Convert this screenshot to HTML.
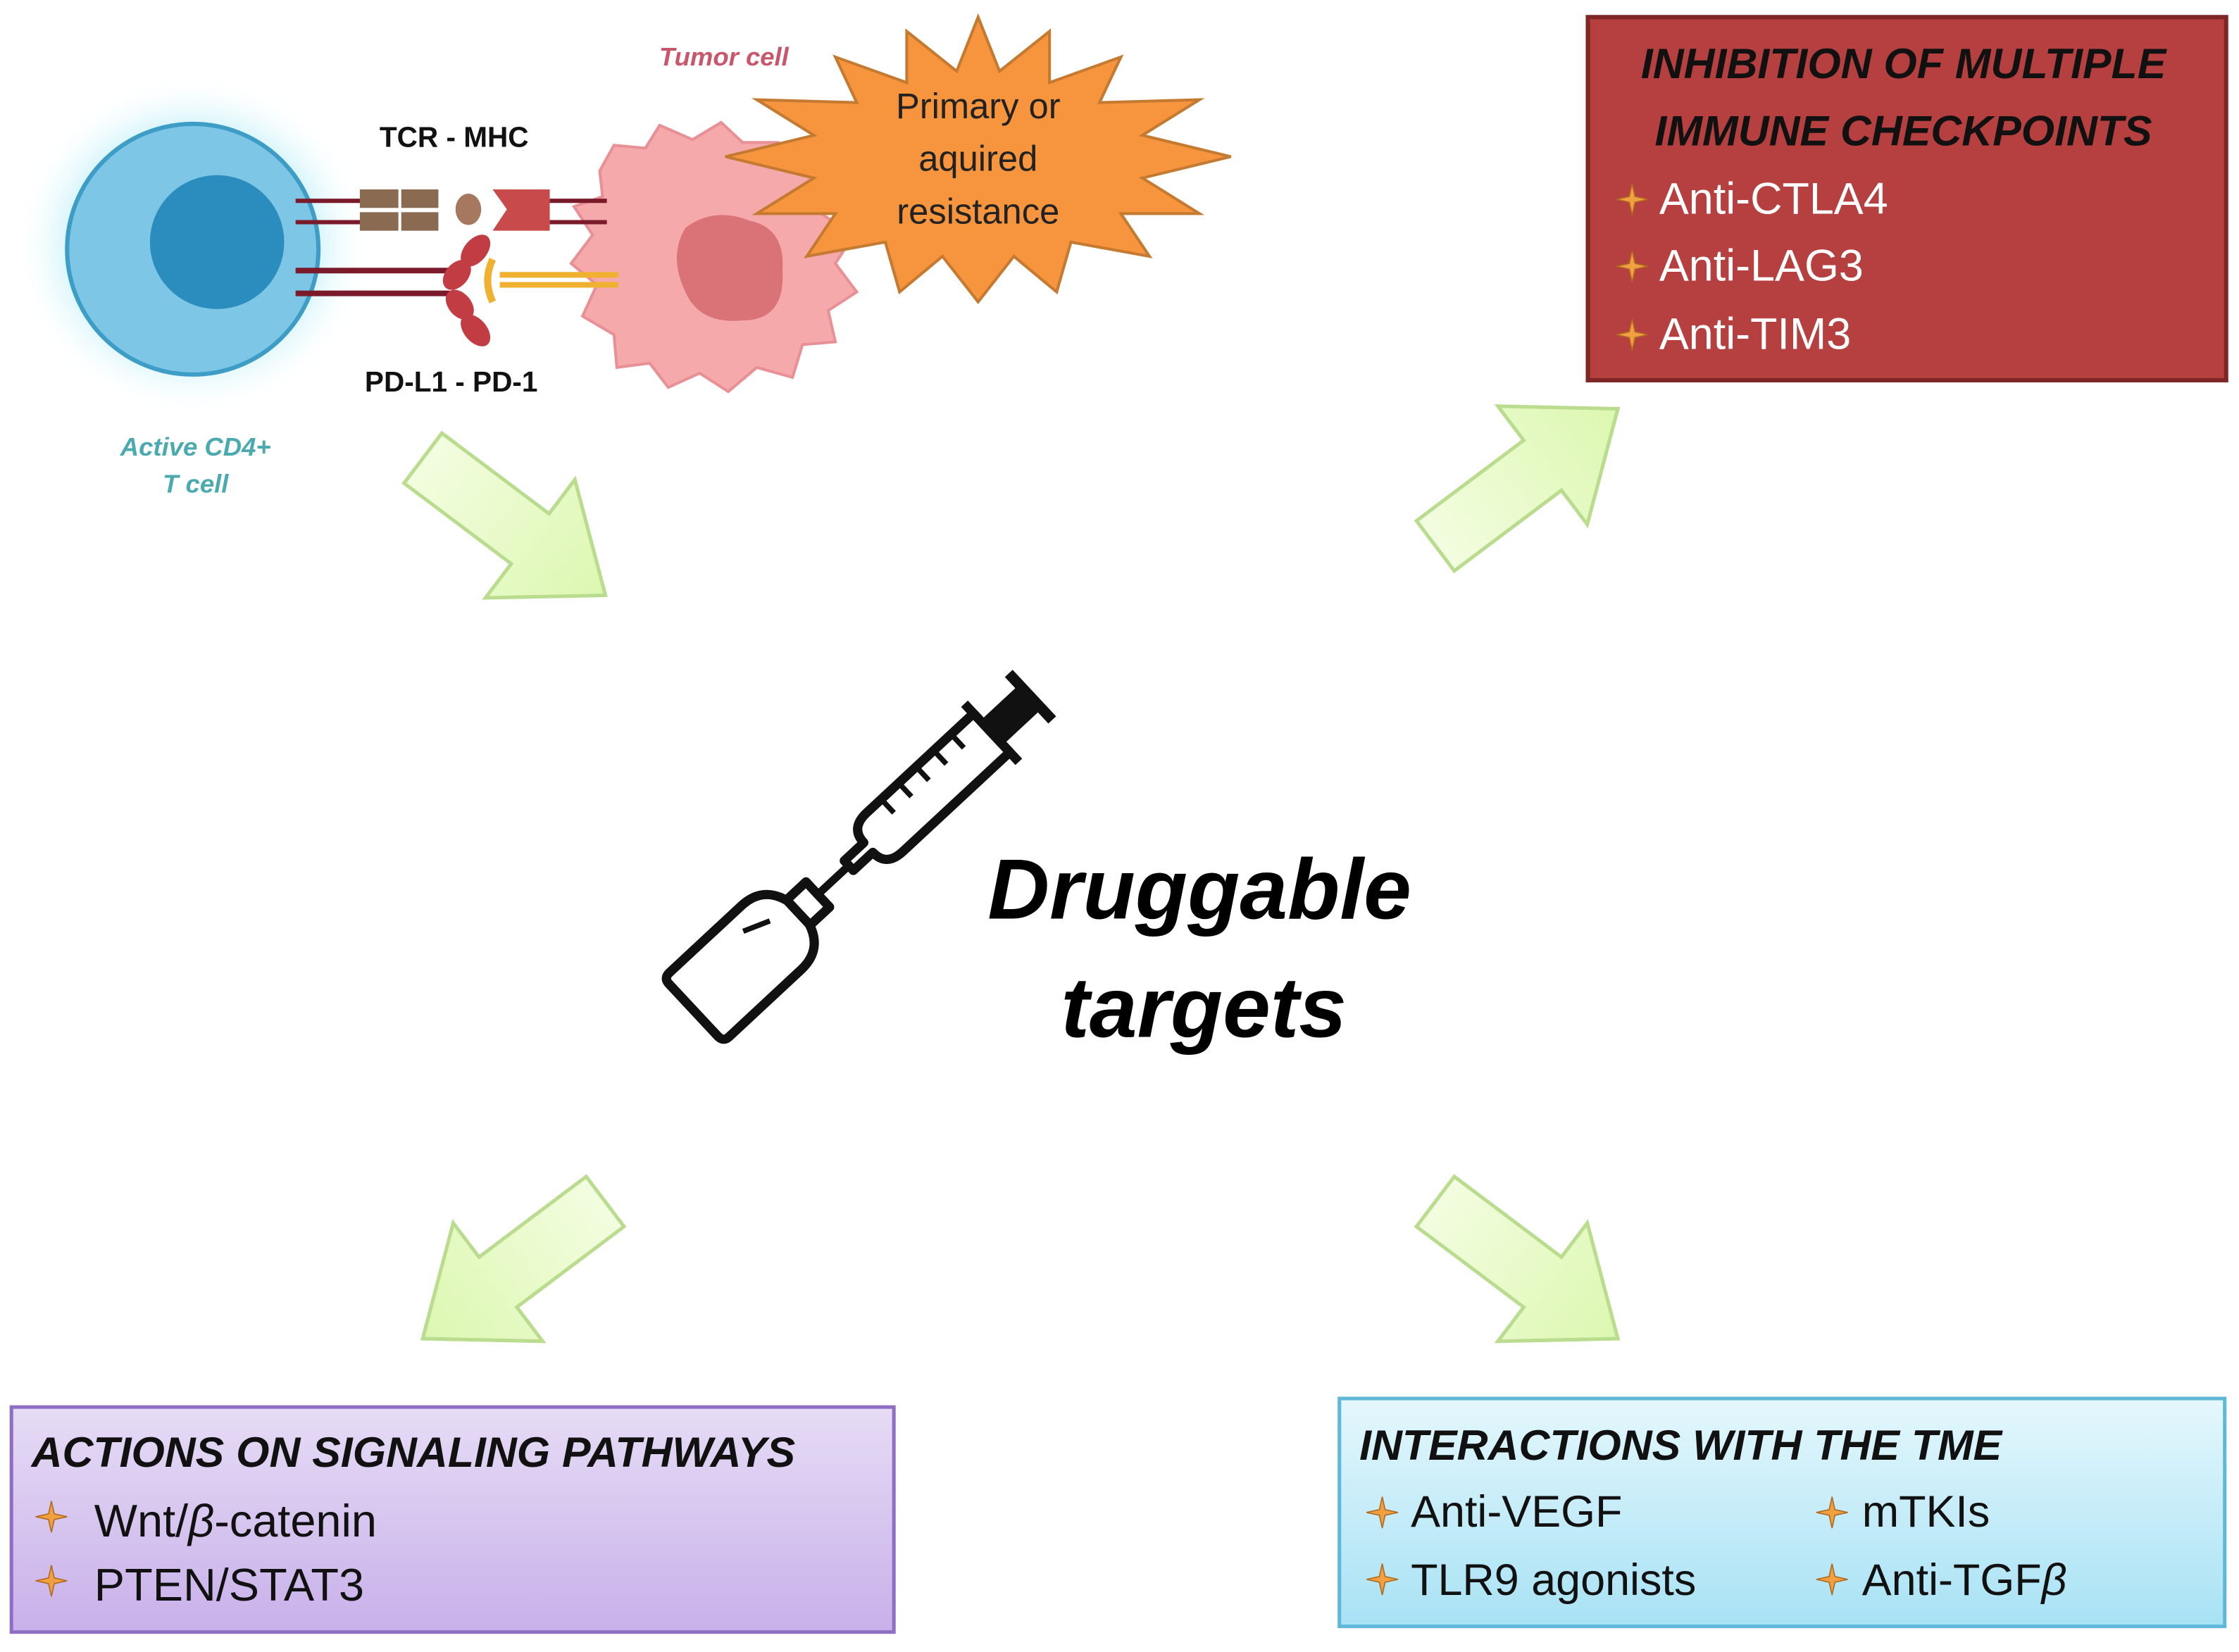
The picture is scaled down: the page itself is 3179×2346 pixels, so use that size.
<!DOCTYPE html>
<html><head><meta charset="utf-8"><style>
html,body{margin:0;padding:0;background:#fff}
svg{display:block}
text{font-family:"Liberation Sans",sans-serif}
</style></head><body>
<svg width="3179" height="2346" viewBox="0 0 1568 1160" preserveAspectRatio="none" xmlns="http://www.w3.org/2000/svg">
<defs>
<radialGradient id="glow" cx="0.5" cy="0.5" r="0.5">
<stop offset="0.6" stop-color="#b8eef8"/><stop offset="1" stop-color="#ffffff" stop-opacity="0"/>
</radialGradient>
<linearGradient id="ag" x1="0" y1="0" x2="1" y2="0">
<stop offset="0" stop-color="#f3fde0"/><stop offset="1" stop-color="#dcf7b0"/>
</linearGradient>
<linearGradient id="pg" x1="0" y1="0" x2="0" y2="1">
<stop offset="0" stop-color="#e6dcf5"/><stop offset="1" stop-color="#c8b0ea"/>
</linearGradient>
<linearGradient id="bg" x1="0" y1="0" x2="0" y2="1">
<stop offset="0" stop-color="#e4f7fc"/><stop offset="1" stop-color="#a8e2f5"/>
</linearGradient>
<path id="arr" d="M-160,-22 L-66,-22 L-66,-52 L0,0 L-66,52 L-66,22 L-160,22 Z" fill="url(#ag)" stroke="#b9dc8e" stroke-width="2.5"/>
<g id="star"><path d="M0,-11 L2,-2 L11,0 L2,2 L0,11 L-2,2 L-11,0 L-2,-2 Z" fill="#f0a040" stroke="#b06a20" stroke-width="0.8"/></g>
</defs>

<ellipse cx="135" cy="172" rx="125" ry="120" fill="url(#glow)"/>
<circle cx="135" cy="175" r="88" fill="#7ec6e6" stroke="#3d9dc6" stroke-width="3"/>
<circle cx="152" cy="170" r="47" fill="#2a8dbd"/>
<text x="137" y="320" font-size="18" font-style="italic" font-weight="bold" fill="#4aaab0" text-anchor="middle">Active CD4+</text>
<text x="137" y="346" font-size="18" font-style="italic" font-weight="bold" fill="#4aaab0" text-anchor="middle">T cell</text>

<path d="M420,120 L430,102 L452,104 L462,88 L485,98 L505,86 L520,100 L545,100 L555,118 L578,128 L575,150 L598,165 L585,185 L600,205 L580,218 L585,240 L562,242 L555,265 L530,258 L510,275 L490,262 L468,272 L455,255 L432,258 L430,235 L408,222 L418,200 L400,185 L415,165 L402,145 L422,138 Z" fill="#f5a9ab" stroke="#e89095" stroke-width="2"/>
<path d="M480,160 Q500,145 525,155 Q550,160 548,190 Q550,225 520,225 Q490,228 480,205 Q468,180 480,160 Z" fill="#d97378"/>
<text x="507" y="46" font-size="18" font-style="italic" font-weight="bold" fill="#c9566a" text-anchor="middle">Tumor cell</text>

<g stroke-width="3">
<line x1="207" y1="141" x2="255" y2="141" stroke="#7a1a2a"/>
<line x1="207" y1="156" x2="255" y2="156" stroke="#7a1a2a"/>
<line x1="385" y1="141" x2="425" y2="141" stroke="#7a1a2a"/>
<line x1="385" y1="156" x2="425" y2="156" stroke="#7a1a2a"/>
<line x1="207" y1="190" x2="315" y2="190" stroke="#7a1a2a" stroke-width="4"/>
<line x1="207" y1="206" x2="315" y2="206" stroke="#7a1a2a" stroke-width="4"/>
<line x1="350" y1="193" x2="433" y2="193" stroke="#f0b030" stroke-width="4"/>
<line x1="350" y1="200" x2="433" y2="200" stroke="#f0b030" stroke-width="4"/>
</g>
<rect x="252" y="133" width="27" height="13" fill="#8a6a50"/><rect x="252" y="149" width="27" height="13" fill="#8a6a50"/>
<rect x="281" y="133" width="26" height="13" fill="#8a6a50"/><rect x="281" y="149" width="26" height="13" fill="#8a6a50"/>
<ellipse cx="328" cy="147" rx="9" ry="11" fill="#a67860"/>
<path d="M345,133 L385,133 L385,162 L345,162 L355,147 Z" fill="#c94a4a"/>
<ellipse cx="333" cy="176" rx="8" ry="13" transform="rotate(40 333 176)" fill="#c23c44"/>
<ellipse cx="320" cy="193" rx="8" ry="12" transform="rotate(40 320 193)" fill="#c23c44"/>
<ellipse cx="322" cy="214" rx="8" ry="12" transform="rotate(-40 322 214)" fill="#c23c44"/>
<ellipse cx="333" cy="232" rx="8" ry="13" transform="rotate(-40 333 232)" fill="#c23c44"/>
<path d="M345,182 Q338,197 345,212" stroke="#f0b030" stroke-width="5" fill="none"/>
<text x="318" y="103" font-size="20" font-weight="bold" fill="#111" text-anchor="middle">TCR - MHC</text>
<text x="316" y="275" font-size="20" font-weight="bold" fill="#111" text-anchor="middle">PD-L1 - PD-1</text>

<path fill="#f7943e" stroke="#c47a30" stroke-width="2" d="M685,12 L700,50 L735,22 L735,58 L785,40 L770,72 L840,70 L800,95 L862,110 L800,125 L840,150 L785,150 L805,180 L750,170 L740,205 L710,180 L685,212 L660,180 L630,205 L620,170 L565,180 L585,150 L530,150 L570,125 L508,110 L570,95 L530,70 L600,72 L585,40 L635,58 L635,22 L670,50 Z"/>
<text font-size="25" fill="#222" text-anchor="middle"><tspan x="685" y="83">Primary or</tspan><tspan x="685" y="120">aquired</tspan><tspan x="685" y="157">resistance</tspan></text>

<use href="#arr" transform="translate(424,418) rotate(37)"/>
<use href="#arr" transform="translate(1133,287) rotate(-37)"/>
<use href="#arr" transform="translate(296,940) rotate(143)"/>
<use href="#arr" transform="translate(1133,940) rotate(37)"/>

<g transform="translate(487,708) rotate(-43) scale(0.93)" stroke="#111" stroke-width="7" fill="none" stroke-linejoin="round">
<path d="M4,-33 L78,-33 Q100,-33 106,-12 L106,12 Q100,33 78,33 L4,33 Q-2,33 -2,27 L-2,-27 Q-2,-33 4,-33 Z" fill="#fff"/>
<rect x="106" y="-13" width="20" height="26" fill="#fff"/>
<line x1="66" y1="-18" x2="86" y2="-10" stroke-width="4"/>
<line x1="126" y1="0" x2="158" y2="0" stroke-width="6"/>
<path d="M158,-5 L178,-5 Q178,-20 195,-20 L305,-20 L305,20 L195,20 Q178,20 178,5 L158,5 Z" fill="#fff"/>
<line x1="305" y1="-30" x2="305" y2="30"/>
<rect x="305" y="-9" width="38" height="18" fill="#111"/>
<line x1="345" y1="-24" x2="345" y2="24" stroke-width="8"/>
<g stroke-width="4"><line x1="210" y1="-20" x2="210" y2="-6"/><line x1="228" y1="-20" x2="228" y2="-6"/><line x1="246" y1="-20" x2="246" y2="-6"/><line x1="264" y1="-20" x2="264" y2="-6"/><line x1="282" y1="-20" x2="282" y2="-6"/></g>
</g>
<text x="840" y="645" font-size="60" font-weight="bold" font-style="italic" fill="#000" text-anchor="middle">Druggable</text>
<text x="843" y="728" font-size="60" font-weight="bold" font-style="italic" fill="#000" text-anchor="middle">targets</text>

<rect x="1112" y="12" width="447" height="255" fill="#b5403f" stroke="#7e2626" stroke-width="3"/>
<text x="1333" y="55" font-size="30" font-weight="bold" font-style="italic" fill="#111" text-anchor="middle">INHIBITION OF MULTIPLE</text>
<text x="1333" y="102" font-size="30" font-weight="bold" font-style="italic" fill="#111" text-anchor="middle">IMMUNE CHECKPOINTS</text>
<use href="#star" x="1143" y="140"/><use href="#star" x="1143" y="187"/><use href="#star" x="1143" y="235"/>
<text font-size="31" fill="#fff"><tspan x="1162" y="150">Anti-CTLA4</tspan><tspan x="1162" y="197">Anti-LAG3</tspan><tspan x="1162" y="245">Anti-TIM3</tspan></text>

<rect x="8" y="988" width="618" height="158" fill="url(#pg)" stroke="#8e6fc4" stroke-width="2.5"/>
<text x="22" y="1030" font-size="30" font-weight="bold" font-style="italic" fill="#111">ACTIONS ON SIGNALING PATHWAYS</text>
<use href="#star" x="36" y="1065"/><use href="#star" x="36" y="1110"/>
<text font-size="32" fill="#111"><tspan x="66" y="1079">Wnt/<tspan font-style="italic">β</tspan>-catenin</tspan><tspan x="66" y="1124">PTEN/STAT3</tspan></text>

<rect x="938" y="982" width="620" height="160" fill="url(#bg)" stroke="#5fb8d8" stroke-width="2.5"/>
<text x="952" y="1025" font-size="30" font-weight="bold" font-style="italic" fill="#111">INTERACTIONS WITH THE TME</text>
<use href="#star" x="968" y="1062"/><use href="#star" x="968" y="1109"/><use href="#star" x="1283" y="1062"/><use href="#star" x="1283" y="1109"/>
<text font-size="31" fill="#111"><tspan x="988" y="1072">Anti-VEGF</tspan><tspan x="988" y="1120">TLR9 agonists</tspan><tspan x="1304" y="1072">mTKIs</tspan><tspan x="1304" y="1120">Anti-TGF<tspan font-style="italic">β</tspan></tspan></text>
</svg>
</body></html>
